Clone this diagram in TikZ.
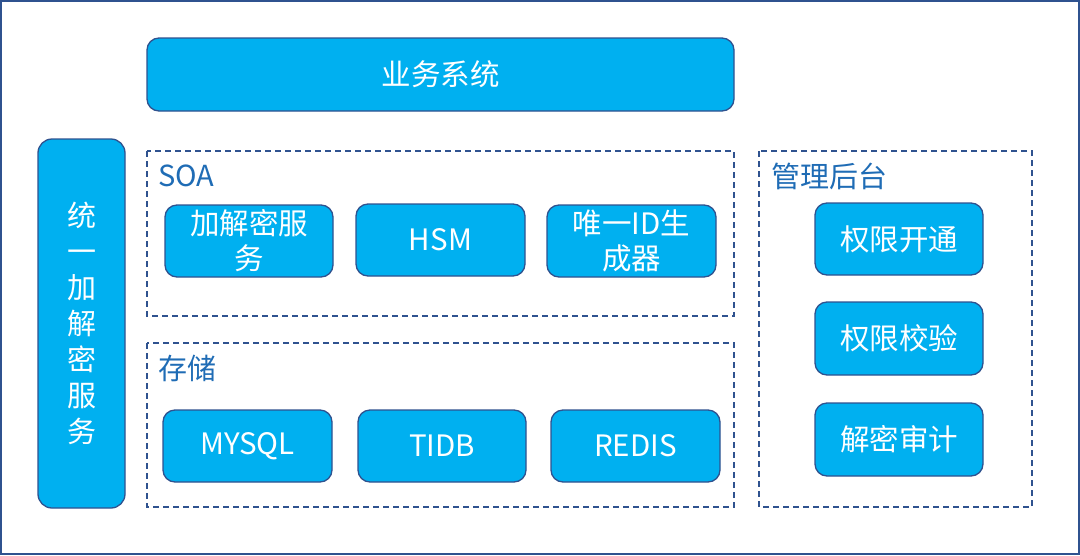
\documentclass[tikz,border=0pt]{standalone}
\usepackage{fontspec}
\setmainfont{Noto Sans CJK SC}
\usetikzlibrary{positioning}
\definecolor{boxfill}{HTML}{00B0F0}
\definecolor{boxline}{HTML}{2F528F}
\definecolor{labelblue}{HTML}{1F6CB5}
\tikzset{
  bluebox/.style={draw=boxline, line width=1.3pt, fill=boxfill, rounded corners=12pt,
    text=white, font=\fontsize{29.5}{35}\selectfont, align=center, inner sep=0pt},
  groupbox/.style={draw=boxline, line width=1.3pt, dash pattern=on 6pt off 4pt},
  grouplabel/.style={text=labelblue, font=\fontsize{29}{34}\selectfont, anchor=west, inner sep=0pt}
}
\begin{document}
\begin{tikzpicture}[x=1pt,y=-1pt]
\useasboundingbox (0,0) rectangle (1080,555);
\draw[draw=boxline, line width=2pt] (1,1) rectangle (1079,554);
% top
\node[bluebox, minimum width=587pt, minimum height=73pt] (biz) at (440.5,74.5) {\raisebox{-1.5pt}{业务系统}};
% left vertical
\node[bluebox, rounded corners=14pt, minimum width=87pt, minimum height=369pt,
  font=\fontsize{29}{36}\selectfont] (unified) at (81.5,323.5) {统\\一\\加\\解\\密\\服\\务};
% SOA group
\draw[groupbox] (147,151) rectangle (734,316);
\node[grouplabel] (soa) at (158,176) {SOA};
\node[bluebox, minimum width=168pt, minimum height=72pt] (crypt) at (249,241) {加解密服\\务};
\node[bluebox, minimum width=169pt, minimum height=72pt] (hsm) at (440.5,240) {\raisebox{-1.5pt}{HSM}};
\node[bluebox, minimum width=169pt, minimum height=72pt] (idgen) at (631.5,241) {唯一ID生\\成器};
% storage group
\draw[groupbox] (147,343) rectangle (734,507);
\node[grouplabel] (store) at (158,368) {存储};
\node[bluebox, minimum width=169pt, minimum height=72pt] (mysql) at (247.5,446) {\raisebox{-1.5pt}{MYSQL}};
\node[bluebox, minimum width=168pt, minimum height=72pt] (tidb) at (442,446) {\raisebox{-1.5pt}{TIDB}};
\node[bluebox, minimum width=169pt, minimum height=72pt] (redis) at (635.5,446) {\raisebox{-1.5pt}{REDIS}};
% admin group
\draw[groupbox] (759,151) rectangle (1032,507);
\node[grouplabel] (admin) at (771,176) {管理后台};
\node[bluebox, minimum width=168pt, minimum height=72pt] (open) at (899,239) {\raisebox{-1.5pt}{权限开通}};
\node[bluebox, minimum width=168pt, minimum height=73pt] (check) at (899,338.5) {\raisebox{-1.5pt}{权限校验}};
\node[bluebox, minimum width=168pt, minimum height=73pt] (audit) at (899,439.5) {\raisebox{-1.5pt}{解密审计}};
\end{tikzpicture}
\end{document}
